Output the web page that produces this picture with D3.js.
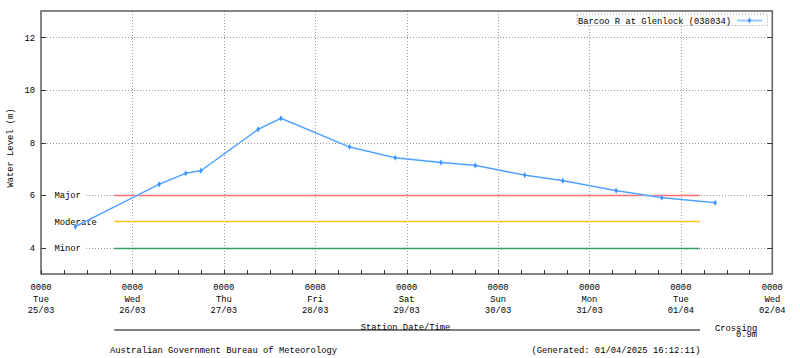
<!DOCTYPE html>
<html><head><meta charset="utf-8">
<script src="https://cdn.jsdelivr.net/npm/d3@7"></script>
<style>
html,body{margin:0;padding:0;background:#fff;}
svg{display:block;}
text{font-family:"Liberation Mono","DejaVu Sans Mono",monospace;font-size:8.8px;fill:#000;}
</style></head>
<body>
<svg id="chart" width="800" height="358"></svg>
<script>
// ---- data ----
const times = ["2025-03-25T09:00","2025-03-26T07:00","2025-03-26T14:00","2025-03-26T18:00",
  "2025-03-27T09:00","2025-03-27T15:00","2025-03-28T09:00","2025-03-28T21:00",
  "2025-03-29T09:00","2025-03-29T18:00","2025-03-30T07:00","2025-03-30T17:00",
  "2025-03-31T07:00","2025-03-31T19:00","2025-04-01T09:00"];
const levels = [4.80,6.41,6.83,6.93,8.50,8.92,7.83,7.42,7.24,7.13,6.76,6.55,6.17,5.90,5.71];
const yTicks = [4,6,8,10,12];
const thresholdNames = ["Major","Moderate","Minor"];
const thresholdValues = [6,5,4];
const thresholdColors = ["#ff6f6f","#ffbf1a","#3a9a66"];
const thresholdStart = "2025-03-25T19:15";
const thresholdEnd = "2025-04-01T05:00";
const xStart = "2025-03-25T00:00", xEnd = "2025-04-02T00:00";
const seriesName = "Barcoo R at Glenlock (038034)";

// ---- setup ----
const parse = d3.utcParse("%Y-%m-%dT%H:%M");
const svg = d3.select("#chart");
const L=41, R=772.3, T=11, B=274;
const x = d3.scaleUtc().domain([parse(xStart), parse(xEnd)]).range([L,R]);
const y = d3.scaleLinear().domain([3,13]).range([B,T]);
const data = times.map((t,i)=>({t:parse(t), v:levels[i]}));
const days = d3.utcDay.range(parse(xStart), d3.utcDay.offset(parse(xEnd),1));
const sixHours = d3.utcHour.every(6).range(parse(xStart), parse(xEnd));

// grid
const grid = svg.append("g").attr("stroke","#9a9a9a").attr("stroke-width",1).attr("stroke-dasharray","1,2");
grid.selectAll("line.gx").data(days.slice(1,-1)).join("line")
  .attr("x1",d=>Math.round(x(d))+0.5).attr("x2",d=>Math.round(x(d))+0.5).attr("y1",T).attr("y2",B);
grid.selectAll("line.gy").data(yTicks).join("line")
  .attr("x1",L).attr("x2",R).attr("y1",d=>Math.round(y(d))+0.5).attr("y2",d=>Math.round(y(d))+0.5);

// threshold lines
const tx0 = x(parse(thresholdStart)), tx1 = x(parse(thresholdEnd));
svg.append("g").selectAll("line").data(thresholdValues).join("line")
  .attr("x1",tx0).attr("x2",tx1)
  .attr("y1",d=>Math.round(y(d))+0.5).attr("y2",d=>Math.round(y(d))+0.5)
  .attr("stroke",(d,i)=>thresholdColors[i]).attr("stroke-width",1.6);
// threshold labels with white backing
const tl = svg.append("g");
thresholdNames.forEach((n,i)=>{
  const yy = y(thresholdValues[i]);
  tl.append("rect").attr("x",45).attr("y",yy-5).attr("width",n.length*5.3+13).attr("height",10).attr("fill","#fff");
  tl.append("text").attr("x",54.5).attr("y",yy+3.2).text(n);
});

// border
svg.append("rect").attr("x",L).attr("y",T).attr("width",R-L).attr("height",B-T)
  .attr("fill","none").attr("stroke","#666").attr("stroke-width",1.6);

// y ticks (left & right, inward)
const yt = svg.append("g").attr("stroke","#333").attr("stroke-width",1);
yt.selectAll("line.l").data(yTicks).join("line").attr("x1",L).attr("x2",L+5)
  .attr("y1",d=>Math.round(y(d))+0.5).attr("y2",d=>Math.round(y(d))+0.5);
yt.selectAll("line.r").data(yTicks).join("line").attr("x1",R-5).attr("x2",R)
  .attr("y1",d=>Math.round(y(d))+0.5).attr("y2",d=>Math.round(y(d))+0.5);
svg.append("g").selectAll("text").data(yTicks).join("text")
  .attr("x",35).attr("y",d=>y(d)+3.2).attr("text-anchor","end").text(d=>d);

// x minor ticks
svg.append("g").attr("stroke","#333").attr("stroke-width",1).selectAll("line").data(sixHours).join("line")
  .attr("x1",d=>Math.round(x(d))+0.5).attr("x2",d=>Math.round(x(d))+0.5).attr("y1",B-4).attr("y2",B);

// x labels
const fmtDay = d3.utcFormat("%a"), fmtDate = d3.utcFormat("%d/%m"), fmtHM = d3.utcFormat("%H%M");
const xl = svg.append("g").attr("text-anchor","middle");
days.slice(0,9).forEach(d=>{
  const xx = x(d);
  xl.append("text").attr("x",xx).attr("y",290).text(fmtHM(d));
  xl.append("text").attr("x",xx).attr("y",301.7).text(fmtDay(d));
  xl.append("text").attr("x",xx).attr("y",313).text(fmtDate(d));
});

// y label
svg.append("text").attr("transform","translate(12.5,148) rotate(-90)").attr("text-anchor","middle").text("Water Level (m)");

// series
const line = d3.line().x(d=>x(d.t)).y(d=>y(d.v));
svg.append("path").datum(data).attr("d",line).attr("fill","none")
  .attr("stroke","#a9d3ff").attr("stroke-width",1.8);
svg.append("path").datum(data).attr("d",line).attr("fill","none")
  .attr("stroke","#3390ff").attr("stroke-width",0.9);
const sym = d3.symbol().type(d3.symbolDiamond).size(11);
svg.append("g").selectAll("path").data(data).join("path")
  .attr("transform",d=>`translate(${x(d.t)},${y(d.v)})`).attr("d",sym).attr("fill","#3d96ff");

// legend
svg.append("rect").attr("x",577).attr("y",14).attr("width",190.5).attr("height",11.5)
  .attr("fill","#fff").attr("stroke","#999").attr("stroke-width",1).attr("stroke-dasharray","1,2");
svg.append("text").attr("x",731).attr("y",23.5).attr("text-anchor","end").text(seriesName);
svg.append("line").attr("x1",737).attr("x2",762).attr("y1",20.5).attr("y2",20.5)
  .attr("stroke","#99cbff").attr("stroke-width",2);
svg.append("path").attr("transform","translate(749.5,20.5)").attr("d",sym).attr("fill","#3d96ff");

// bottom bar & captions
svg.append("line").attr("x1",tx0).attr("x2",tx1).attr("y1",330).attr("y2",330)
  .attr("stroke","#808080").attr("stroke-width",2);
svg.append("text").attr("x",405.5).attr("y",329.5).attr("text-anchor","middle").text("Station Date/Time");
svg.append("text").attr("x",715).attr("y",330.5).text("Crossing");
svg.append("text").attr("x",757).attr("y",337).attr("text-anchor","end").text("0.9m");
svg.append("text").attr("x",110).attr("y",353).text("Australian Government Bureau of Meteorology");
svg.append("text").attr("x",531.5).attr("y",353).text("(Generated: 01/04/2025 16:12:11)");
</script>
</body></html>
